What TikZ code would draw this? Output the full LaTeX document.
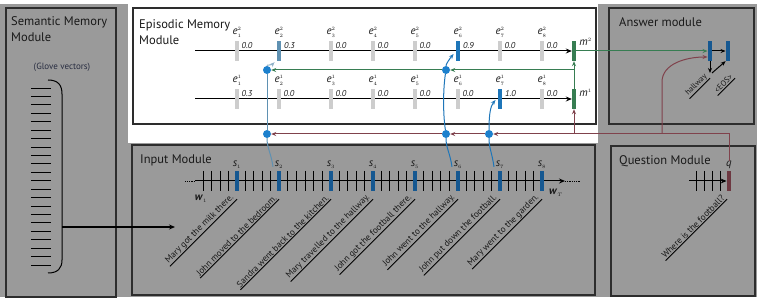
\documentclass[tikz,border=0pt]{standalone}
\usepackage{fontspec}
\setmainfont{PT Sans}
\usetikzlibrary{arrows.meta,positioning,calc}
\definecolor{panel}{RGB}{154,154,154}
\definecolor{frame}{RGB}{45,45,45}
\definecolor{faint}{RGB}{205,205,205}
\definecolor{steel}{RGB}{95,145,178}
\definecolor{hot}{RGB}{30,118,185}
\definecolor{deep}{RGB}{22,88,145}
\definecolor{dotc}{RGB}{28,128,205}
\definecolor{memo}{RGB}{55,125,82}
\definecolor{ques}{RGB}{128,66,76}
\definecolor{ink}{RGB}{25,25,25}
\definecolor{glovec}{RGB}{40,45,65}
\tikzset{
  module/.style={draw=frame,line width=1.1pt},
  title/.style={anchor=north west,align=left,inner sep=0pt,text=ink,font=\fontsize{12.5}{16}\selectfont},
  dimbar/.style={fill=faint,minimum width=3.5pt,minimum height=20pt,inner sep=0pt},
  steelbar/.style={dimbar,fill=steel,minimum width=4.5pt},
  hotbar/.style={dimbar,fill=hot,minimum width=4.5pt},
  membar/.style={dimbar,fill=memo,minimum width=4pt},
  wordbar/.style={dimbar,fill=deep,minimum width=4.5pt},
  askbar/.style={dimbar,fill=ques!85!black,minimum width=4.5pt},
  elab/.style={inner sep=0pt,text=ink,font=\fontsize{11}{12}\selectfont},
  val/.style={inner sep=0pt,text=ink,font=\fontsize{8.5}{10}\selectfont\itshape},
  sent/.style={rotate=45,inner sep=1pt,text=ink,font=\fontsize{9}{10}\selectfont},
  uline/.style={draw=black,line width=0.8pt},
  arrowed/.style={-{Stealth[length=5pt,width=4pt]}},
  axis/.style={black,line width=1pt,-{Stealth[length=6pt,width=5pt]}},
  wordtick/.style={black,line width=0.8pt},
  mem/.style={memo,line width=1pt,arrowed},
  qlink/.style={ques,line width=1pt,arrowed},
  blink/.style={#1,line width=1pt},
  dot/.style={circle,fill=dotc,inner sep=0pt,minimum size=8pt},
}
\begin{document}
\begin{tikzpicture}[x=1pt,y=-1pt]
\useasboundingbox (0,0) rectangle (761,302);
% panels
\fill[white] (0,0) rectangle (761,302);
\fill[panel] (0,4) rectangle (757,297);
\fill[white] (128,4) rectangle (598,143);
\draw[module] (6,8) rectangle (116,297);
\draw[module] (133,8) rectangle (596,124);
\draw[module] (609,8) rectangle (754,124);
\draw[module] (132,145) rectangle (595,295);
\draw[module] (611,146) rectangle (755,296);
\node[title] (semt) at (11,16.5) {Semantic Memory\\Module};
\node[title] (epit) at (139,19.5) {Episodic Memory\\Module};
\node[title] (anst) at (619,17.5) {Answer module};
\node[title] (inpt) at (140,154.5) {Input Module};
\node[title] (quet) at (619,155.5) {Question Module};

% semantic memory
\node[inner sep=0pt,text=glovec,font=\fontsize{9}{10}\selectfont] (glove) at (62,67) {(Glove vectors)};
\foreach \k in {0,...,21} \draw[wordtick] (31,{88+\k*8.43}) -- ++(20,0);
\draw[line width=1pt] (48,80) .. controls (58,80) and (62,85) .. (62,94) -- (62,260) .. controls (62,268) and (58,273) .. (48,273);
\coordinate (glv) at (62,227);
\coordinate (inp) at (175,227);
\draw[axis] (glv) -- (inp);

% episodic memory
\node[membar] (mt) at (574,51) {};
\node[membar] (mb) at (574,99) {};
\node[elab,anchor=north west] (mtl) at ([xshift=3pt,yshift=3pt]mt.north east) {$\mathit{m}^{\scriptscriptstyle 2}$};
\node[elab,anchor=north west] (mbl) at ([xshift=3pt,yshift=0pt]mb.north east) {$\mathit{m}^{\scriptscriptstyle 1}$};
\coordinate (ta) at (195,51);
\coordinate (ba) at (195,99);
\draw[axis] (ta) -- (mt);
\draw[axis] (ba) -- (mb);
\foreach \i/\x/\lo/\hi/\blo/\bhi in {1/237/0.3/0.0/dimbar/dimbar,2/279/0.0/0.3/dimbar/steelbar,3/331/0.0/0.0/dimbar/dimbar,4/373/0.0/0.0/dimbar/dimbar,5/415/0.0/0.0/dimbar/dimbar,6/458/0.0/0.9/dimbar/hotbar,7/500/1.0/0.0/hotbar/dimbar,8/542/0.0/0.0/dimbar/dimbar}{
  \node[\bhi] (et\i) at (\x,51) {};
  \node[\blo] (eb\i) at (\x,99) {};
  \node[elab,above=3pt of et\i] (lt\i) {$\mathit{e}^{\scriptscriptstyle 2}_{\scriptscriptstyle\i}$};
  \node[elab,above=3pt of eb\i] (lb\i) {$\mathit{e}^{\scriptscriptstyle 1}_{\scriptscriptstyle\i}$};
  \node[val,anchor=north west] (vt\i) at ([xshift=2.5pt,yshift=-1pt]et\i.north east) {\hi};
  \node[val,anchor=north west] (vb\i) at ([xshift=2.5pt,yshift=-1pt]eb\i.north east) {\lo};
}

% answer module
\node[wordbar] (ans1) at (710,51) {};
\node[wordbar] (ans2) at (728,51) {};
\coordinate (adn) at (710,73);
\draw[black,line width=1pt,arrowed] (ans1) -- (ans2);
\draw[black,line width=1pt,arrowed] (ans1) -- (adn);
\draw[black,line width=1pt,arrowed] ([xshift=2pt]adn) -- (ans2.south west);
\node[sent,font=\fontsize{8}{9}\selectfont,anchor=south east] (aw1) at ([yshift=-17pt]ans1.south) {hallway};
\node[sent,font=\fontsize{8}{9}\selectfont,anchor=south east] (aw2) at ([xshift=7pt,yshift=-17pt]ans2.south) {<EOS>};
\draw[uline] (aw1.south west) -- (aw1.south east);
\draw[uline] (aw2.south west) -- (aw2.south east);

% input module
\coordinate (w0) at (195,181);
\coordinate (wT) at (565,181);
\draw[black,line width=0.8pt,densely dotted] (w0) -- ++(-10,0);
\draw[black,line width=0.8pt,densely dotted] (wT) -- ++(15,0);
\draw[axis] (w0) -- (wT);
\foreach \a/\b/\k in {195/237/5,237/279/5,279/331/6,331/373/5,373/415/5,415/458/5,458/500/5,500/542/5}{
  \pgfmathtruncatemacro\m{\k-1}
  \foreach \j in {1,...,\m}
    \draw[wordtick] ({\a+\j*(\b-\a)/\k},171) -- ++(0,20);
}
\foreach \i/\x/\txt in {1/237/Mary got the milk there.,2/279/John moved to the bedroom.,3/331/Sandra went back to the kitchen.,4/373/Mary travelled to the hallway.,5/415/John got the football there.,6/458/John went to the hallway.,7/500/John put down the football.,8/542/Mary went to the garden.}{
  \node[wordbar] (s\i) at (\x,181) {};
  \node[elab,above=2pt of s\i] (sl\i) {$\mathit{s}_{\scriptscriptstyle\i}$};
  \node[sent,anchor=south east] (t\i) at ([yshift=-8pt]s\i.south) {\txt};
  \draw[uline] (t\i.south west) -- (t\i.south east);
}
\node[elab] (w1) at (201,199) {\textbf{\textit{w}}$_{\scriptscriptstyle 1}$};
\node[elab] (wTl) at (556,193) {\textbf{\textit{w}}$_{\scriptscriptstyle T}$};

% question module
\node[askbar] (qb) at (729,181) {};
\node[elab,above=2pt of qb] (ql) {$\mathit{q}$};
\foreach \x in {696,704,712,720} \draw[wordtick] (\x,171) -- ++(0,20);
\coordinate (q0) at (689,181);
\draw[axis] (q0) -- (qb);
\node[sent,anchor=south east] (qt) at ([xshift=-2pt,yshift=-8pt]qb.south) {Where is the football?};
\draw[uline] (qt.south west) -- (qt.south east);

% attention gates
\node[dot] (dA) at (267,134) {};
\node[dot] (dB) at (446,134) {};
\node[dot] (dC) at (489,134) {};
\node[dot] (dAt) at (267,70) {};
\node[dot] (dBt) at (446,70) {};

% memory links
\draw[mem] (mb) -- (mt);
\draw[mem] (mt.east) -- (mt.east -| ans1.west);
\draw[mem] (mt |- dBt) -- (dBt);
\draw[mem] (dBt) -- (dAt);

% question links
\coordinate (qs) at (662,134);
\draw[qlink] (ql.north) |- (dC);
\draw[qlink] (dC) -- (dB);
\draw[qlink] (dB) -- (dA);
\draw[qlink] (mb |- dC) -- (mb);
\draw[qlink] (qs) -- ++(0,-52) .. controls +(0,-18) and +(-22,0) .. ([yshift=-6pt]ans1.west);

% fact links
\draw[blink=steel] ([xshift=-6pt,yshift=4pt]s2.north) .. controls +(-2,-14) and +(0,14) .. (dA);
\draw[blink=steel] (dA) -- (dAt);
\draw[blink=steel!70,arrowed] (dAt) .. controls +(0,-6) and +(-4,4) .. ([xshift=-2pt,yshift=-1pt]et2.south west);
\draw[blink=hot] ([xshift=-6pt,yshift=4pt]s6.north) .. controls +(-2,-14) and +(0,14) .. (dB);
\draw[blink=hot] (dB) .. controls +(-3,-20) and +(-3,20) .. (dBt);
\draw[blink=hot,arrowed] (dBt) .. controls +(0,-6) and +(-4,5) .. ([xshift=-2pt,yshift=-3pt]et6.west);
\draw[blink=hot] ([xshift=-6pt,yshift=4pt]s7.north) .. controls +(-2,-14) and +(0,14) .. (dC);
\draw[blink=hot,arrowed] (dC) .. controls +(0,-20) and +(-5,6) .. ([xshift=-2pt,yshift=-1pt]eb7.west);
\end{tikzpicture}
\end{document}
